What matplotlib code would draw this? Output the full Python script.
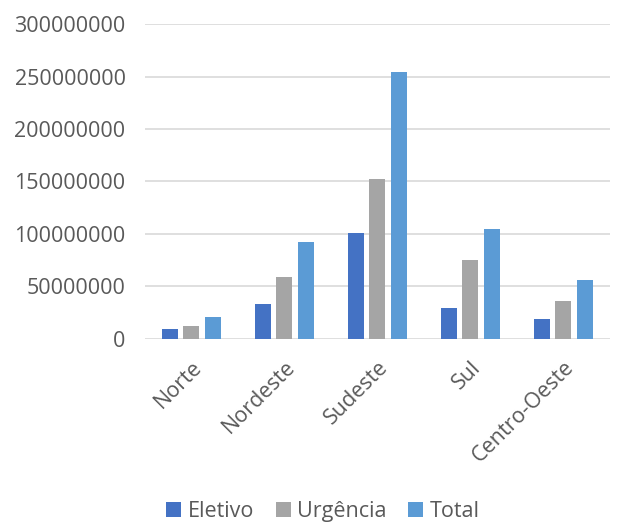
import matplotlib.pyplot as plt
import numpy as np

plt.rcParams['font.family'] = ['Open Sans', 'DejaVu Sans']

regioes = ['Norte', 'Nordeste', 'Sudeste', 'Sul', 'Centro-Oeste']
eletivo = [9000000, 33000000, 101000000, 29000000, 19000000]
urgencia = [12000000, 59000000, 152000000, 75000000, 36000000]
total = [21000000, 92000000, 254000000, 105000000, 56000000]

series = [('Eletivo', eletivo, '#4472C4'),
          ('Urgência', urgencia, '#A5A5A5'),
          ('Total', total, '#5B9BD5')]

TXT = '#595959'
FS = 15.5

fig = plt.figure(figsize=[6.21, 5.23], dpi=100)
ax = fig.add_axes([0.2335, 0.352, 0.7485, 0.602])

x = np.arange(len(regioes))
w = 0.172
step = 0.228
for i, (name, vals, col) in enumerate(series):
    ax.bar(x + (i - 1) * step, vals, w, color=col, label=name, zorder=3)

ax.set_xlim(-0.5, len(regioes) - 0.5)
ax.set_ylim(0, 300000000)
ax.set_yticks(np.arange(0, 300000001, 50000000))
ax.set_yticklabels([str(v) for v in range(0, 300000001, 50000000)])
ax.yaxis.grid(True, color='#D9D9D9', linewidth=1.2, zorder=0)
for s in ax.spines.values():
    s.set_visible(False)
ax.tick_params(axis='both', length=0, colors=TXT, labelsize=FS)
ax.tick_params(axis='y', pad=14)
ax.tick_params(axis='x', pad=13)
ax.set_xticks(x)
ax.set_xticklabels(regioes, rotation=45, ha='right', rotation_mode='anchor')

leg = fig.legend(loc='center', bbox_to_anchor=(0.52, 0.022), ncol=3,
                 frameon=False, fontsize=FS, handlelength=0.7, handleheight=0.7,
                 handletextpad=0.3, columnspacing=1.0)
for t in leg.get_texts():
    t.set_color(TXT)

fig.savefig('out.png', dpi=100)
